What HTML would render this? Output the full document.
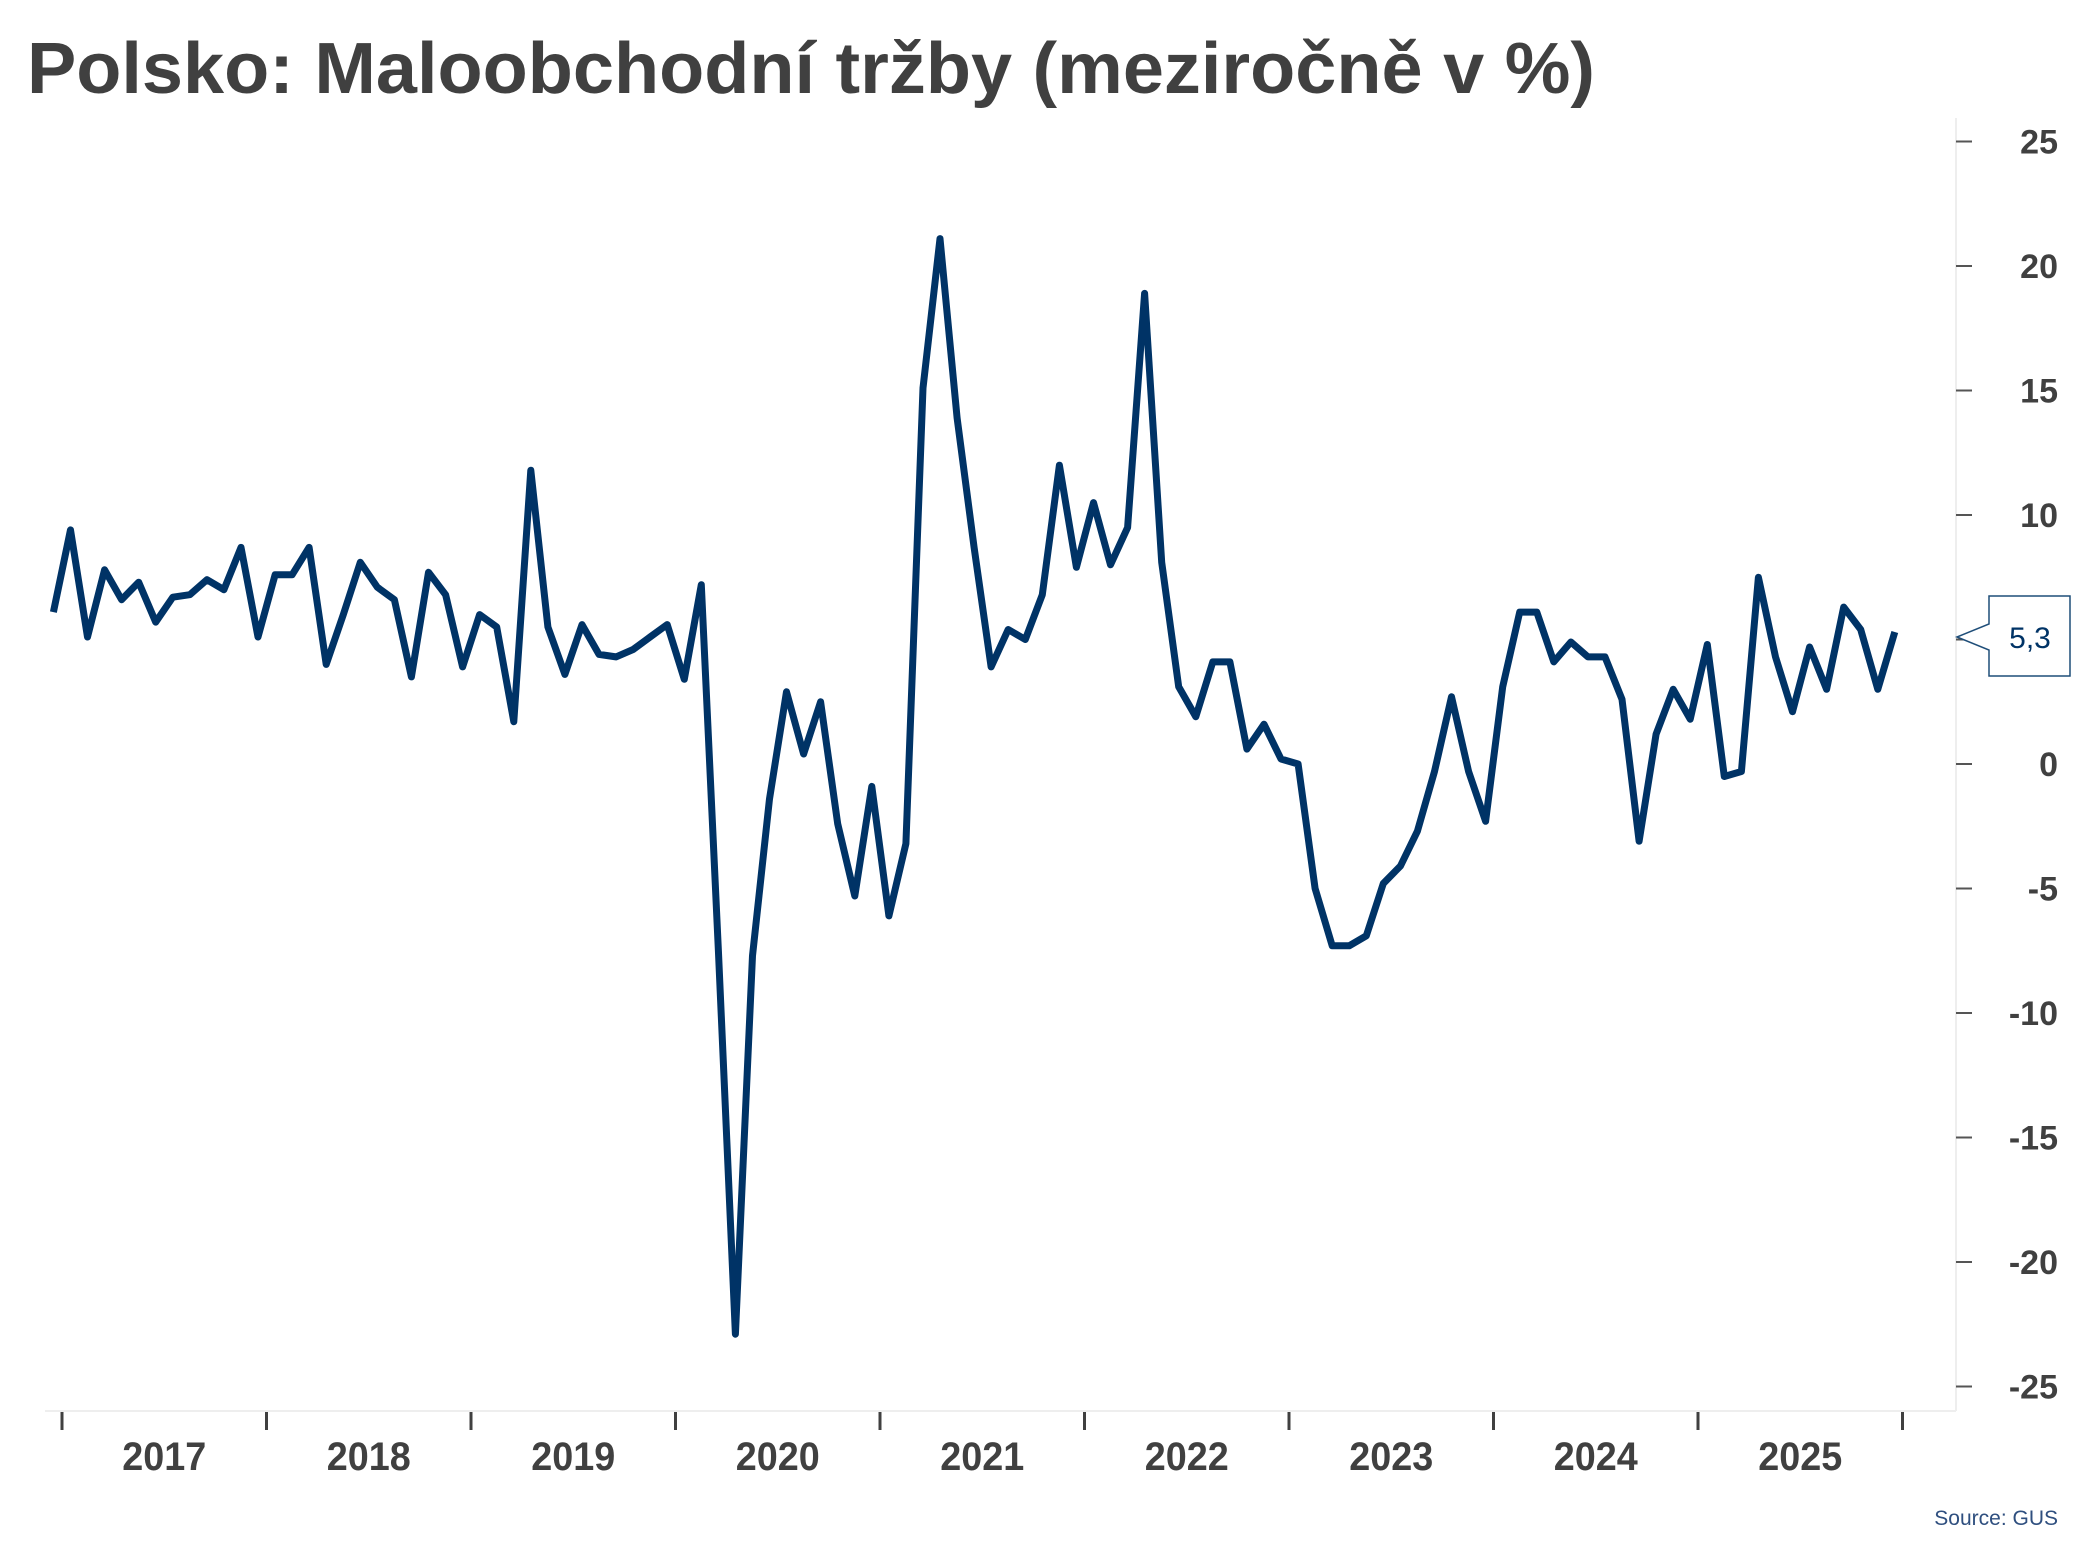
<!DOCTYPE html>
<html><head><meta charset="utf-8"><style>
html,body{margin:0;padding:0;background:#fff;}
svg{display:block;}
text{font-family:"Liberation Sans","DejaVu Sans",sans-serif;}
</style></head><body>
<svg id="chart" width="2093" height="1568" viewBox="0 0 2093 1568" xmlns="http://www.w3.org/2000/svg">
<text x="27" y="93" font-size="72" font-weight="bold" fill="#404040" textLength="1568" lengthAdjust="spacingAndGlyphs">Polsko: Maloobchodní tržby (meziročně v %)</text>
<line x1="1956" y1="118" x2="1956" y2="1411" stroke="#eeeeee" stroke-width="2"/>
<line x1="45" y1="1411" x2="1956" y2="1411" stroke="#eeeeee" stroke-width="2"/>
<g id="yaxis"></g>
<g id="xaxis"></g>
<path id="line" fill="none" stroke="#003366" stroke-width="7" stroke-linejoin="round"/>
<g>
<path d="M1957,637 L1989,624 L1989,596 L2070,596 L2070,676 L1989,676 L1989,650 Z" fill="#fff" stroke="#1f4e79" stroke-width="1.5"/>
<text id="lastlabel" x="2030" y="648" font-size="30" fill="#003366" text-anchor="middle">5,3</text>
</g>
<text x="2058" y="1525" font-size="21" fill="#2f4f7f" text-anchor="end">Source: GUS</text>
</svg>
<script>
const yTicks = [25, 20, 15, 10, 5, 0, -5, -10, -15, -20, -25];
const yearLabels = ["2017","2018","2019","2020","2021","2022","2023","2024","2025"];
const values = [6.1,9.4,5.1,7.8,6.6,7.3,5.7,6.7,6.8,7.4,7.0,8.7,
5.1,7.6,7.6,8.7,4.0,6.0,8.1,7.1,6.6,3.5,7.7,6.8,
3.9,6.0,5.5,1.7,11.8,5.5,3.6,5.6,4.4,4.3,4.6,5.1,
5.6,3.4,7.2,-7.5,-22.9,-7.7,-1.4,2.9,0.4,2.5,-2.4,-5.3,
-0.9,-6.1,-3.2,15.1,21.1,13.9,8.7,3.9,5.4,5.0,6.8,12.0,
7.9,10.5,8.0,9.5,18.9,8.1,3.1,1.9,4.1,4.1,0.6,1.6,
0.2,0.0,-5.0,-7.3,-7.3,-6.9,-4.8,-4.1,-2.7,-0.3,2.7,-0.3,
-2.3,3.1,6.1,6.1,4.1,4.9,4.3,4.3,2.6,-3.1,1.2,3.0,
1.8,4.8,-0.5,-0.3,7.5,4.3,2.1,4.7,3.0,6.3,5.4,3.0,5.3];
const lastValue = "5,3";

const NS = "http://www.w3.org/2000/svg";
function y(v){ return 764 - v * 24.9; }
function x(i){ return 53.4 + i * 17.05; }
function yearTickX(k){ return 62 + k * 204.5; }

const yg = document.getElementById('yaxis');
yTicks.forEach(t => {
  const l = document.createElementNS(NS,'line');
  
  
  l.setAttribute('x1',1956); l.setAttribute('x2',1972);
  l.setAttribute('y1',y(t)); l.setAttribute('y2',y(t));
  l.setAttribute('stroke','#555'); l.setAttribute('stroke-width','2');
  yg.appendChild(l);
  const tx = document.createElementNS(NS,'text');
  
  
  tx.setAttribute('x',2058); tx.setAttribute('y',y(t)+12);
  tx.setAttribute('font-size','34'); tx.setAttribute('font-weight','bold');
  tx.setAttribute('fill','#404040'); tx.setAttribute('text-anchor','end');
  tx.textContent = t;
  yg.appendChild(tx);
});

const xg = document.getElementById('xaxis');
for (let k = 0; k <= yearLabels.length; k++) {
  const l = document.createElementNS(NS,'line');
  
  
  l.setAttribute('x1',yearTickX(k)); l.setAttribute('x2',yearTickX(k));
  l.setAttribute('y1',1412); l.setAttribute('y2',1430);
  l.setAttribute('stroke','#404040'); l.setAttribute('stroke-width','3');
  xg.appendChild(l);
}
yearLabels.forEach((lab,k) => {
  const tx = document.createElementNS(NS,'text');
  
  
  tx.setAttribute('x',(yearTickX(k)+yearTickX(k+1))/2); tx.setAttribute('y',1470);
  tx.setAttribute('font-size','40'); tx.setAttribute('font-weight','bold');
  tx.setAttribute('fill','#404040'); tx.setAttribute('text-anchor','middle');
  tx.setAttribute('textLength','84'); tx.setAttribute('lengthAdjust','spacingAndGlyphs');
  tx.textContent = lab;
  xg.appendChild(tx);
});

document.getElementById('line').setAttribute('d',
  values.map((v,i)=>(i?'L':'M')+x(i).toFixed(1)+','+y(v).toFixed(1)).join(' '));
document.getElementById('lastlabel').textContent = lastValue;
</script>
</body></html>
